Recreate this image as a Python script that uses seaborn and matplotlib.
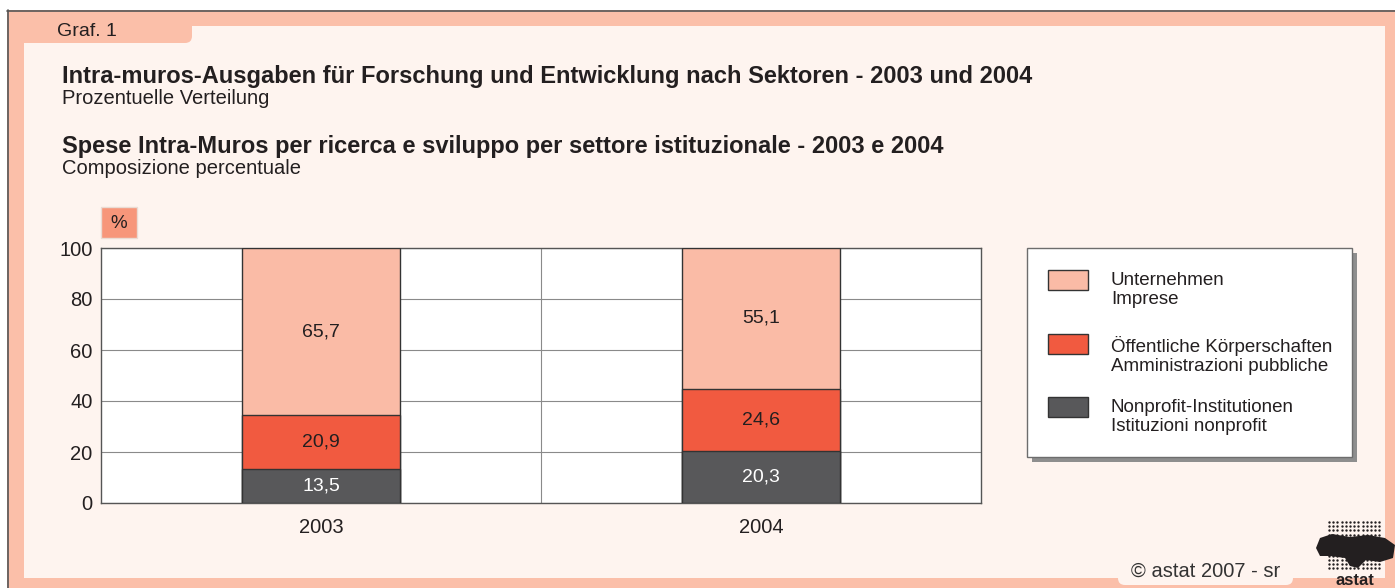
import numpy as np
import pandas as pd
import matplotlib.pyplot as plt
import seaborn as sns
from matplotlib.patches import Rectangle, FancyBboxPatch, Polygon

# data
years = ["2003", "2004"]
unternehmen = [65.7, 55.1]
oeffentliche = [20.9, 24.6]
nonprofit = [13.5, 20.3]
legend_labels = ["Unternehmen\nImprese",
                 "Öffentliche Körperschaften\nAmministrazioni pubbliche",
                 "Nonprofit-Institutionen\nIstituzioni nonprofit"]
colors = ["#FABBA6", "#F15A40", "#58585A"]
yticks = [0, 20, 40, 60, 80, 100]

sns.set_theme(style="white")
plt.rcParams["font.family"] = ["Liberation Sans", "DejaVu Sans"]

W, H = 1395, 588
salmon = "#FBBFA9"
light = "#FEF4EF"
txt = "#231F20"

fig = plt.figure(figsize=(W / 100, H / 100), dpi=100)
fig.patch.set_facecolor("white")

# background layer in pixel coords
bg = fig.add_axes([0, 0, 1, 1], zorder=0)
bg.set_xlim(0, W)
bg.set_ylim(H, 0)
bg.axis("off")

bg.add_patch(Rectangle((7, 10), W - 7, H - 10, facecolor=salmon, edgecolor="none"))
bg.plot([7, W], [10.5, 10.5], color="#555555", lw=1.2)
bg.plot([7.5, 7.5], [10, H], color="#555555", lw=1.2)
bg.add_patch(Rectangle((24, 26), 1385 - 24, 578 - 26, facecolor=light, edgecolor="none"))
bg.add_patch(FancyBboxPatch((12, 14), 180, 29, boxstyle="round,pad=0,rounding_size=7",
                            facecolor=salmon, edgecolor="none"))
bg.add_patch(FancyBboxPatch((1118, 560), 175, 25, boxstyle="round,pad=0,rounding_size=7",
                            facecolor=light, edgecolor="none"))

bg.text(57, 31, "Graf. 1", fontsize=14, va="center", color=txt)
bg.text(62, 76, "Intra-muros-Ausgaben für Forschung und Entwicklung nach Sektoren - 2003 und 2004",
        fontsize=17, fontweight="bold", va="center", color=txt)
bg.text(62, 99, "Prozentuelle Verteilung", fontsize=14.5, va="center", color=txt)
bg.text(62, 147, "Spese Intra-Muros per ricerca e sviluppo per settore istituzionale - 2003 e 2004",
        fontsize=17, fontweight="bold", va="center", color=txt)
bg.text(62, 169, "Composizione percentuale", fontsize=14.5, va="center", color=txt)

# % box
bg.add_patch(Rectangle((101, 207), 36, 31, facecolor="#F7967A", edgecolor="#EADBD3", lw=1))
bg.text(119, 224, "%", fontsize=13.5, ha="center", va="center", color=txt)

# legend (drawn by hand so the swatch sits on the first line)
bg.add_patch(Rectangle((1032, 253), 325, 209, facecolor="#8E8E8E", edgecolor="none"))
bg.add_patch(Rectangle((1027, 248), 325, 209, facecolor="white", edgecolor="#6D6D6D", lw=1))
for k, (lab, c) in enumerate(zip(legend_labels, colors)):
    y0 = 270 + k * 63.5
    bg.add_patch(Rectangle((1048, y0), 40, 20, facecolor=c, edgecolor="#333333", lw=1))
    bg.text(1111, y0 + 2, lab, fontsize=13.5, va="top", linespacing=1.17, color=txt)

# copyright and logo
bg.text(1131, 571, "© astat 2007 - sr", fontsize=14.5, va="center", color="#333333")
gx, gy = np.meshgrid(np.arange(1329, 1380, 4.2), np.arange(522, 572, 4.2))
bg.scatter(gx.ravel(), gy.ravel(), s=3, color="#231F20", lw=0)
bg.add_patch(Polygon([[1316, 548], [1320, 538], [1332, 534], [1350, 537], [1368, 535],
                      [1385, 538], [1395, 545], [1393, 558], [1380, 562], [1366, 560],
                      [1358, 568], [1350, 566], [1345, 558], [1330, 556], [1320, 556]],
                     closed=True, facecolor="#231F20", edgecolor="none"))
bg.text(1355, 588, "astat", fontsize=12, fontweight="bold", ha="center", va="bottom", color="#231F20")

# chart
df = pd.DataFrame({"Jahr": years, "nonprofit": nonprofit,
                   "oeffentliche": oeffentliche, "unternehmen": unternehmen})
df["c1"] = df["nonprofit"]
df["c2"] = df["c1"] + df["oeffentliche"]
df["c3"] = df["c2"] + df["unternehmen"]

ax = fig.add_axes([101 / W, 1 - 503 / H, 880 / W, 255 / H], zorder=2)
ax.set_facecolor("white")
for col, c in zip(["c3", "c2", "c1"], colors):
    sns.barplot(data=df, x="Jahr", y=col, color=c, width=0.36, saturation=1,
                edgecolor="#333333", linewidth=1, ax=ax, zorder=3)

ax.set_xlim(-0.5, 1.5)
ax.set_ylim(0, 100)
ax.set_yticks(yticks)
ax.yaxis.grid(True, color="#8A8A8A", lw=0.8)
ax.axvline(0.5, color="#8A8A8A", lw=0.8, zorder=1)
ax.set_axisbelow(True)
ax.set_xlabel("")
ax.set_ylabel("")
for s in ax.spines.values():
    s.set_visible(True)
    s.set_color("#555555")
    s.set_linewidth(1)
ax.tick_params(axis="y", length=0, pad=6, labelsize=14.5, labelcolor=txt)
ax.tick_params(axis="x", length=0, pad=11, labelsize=14.5, labelcolor=txt)

# value labels
for i in range(len(years)):
    bottom = 0
    for vals, c in zip([nonprofit, oeffentliche, unternehmen], ["white", txt, txt]):
        v = vals[i]
        ax.text(i, bottom + v / 2, f"{v:.1f}".replace(".", ","), ha="center", va="center",
                fontsize=14, color=c, zorder=5)
        bottom += v

fig.savefig("out.png", dpi=100)
